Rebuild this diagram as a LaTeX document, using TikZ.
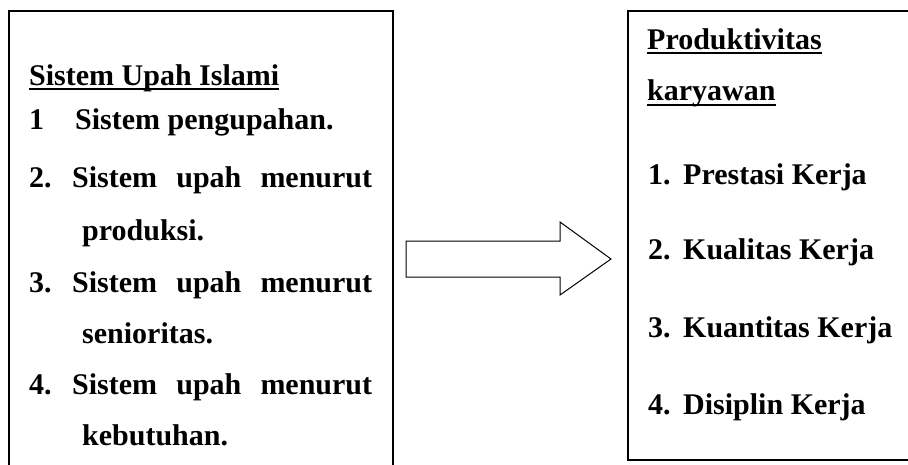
\documentclass[tikz,border=0pt]{standalone}
\usepackage{fontspec}
\setmainfont{Liberation Serif}
\begin{document}
\begin{tikzpicture}[x=1pt,y=-1pt,
  txt/.style={anchor=base west,inner sep=0pt,font=\fontsize{30}{35}\selectfont\bfseries},
  boxline/.style={line width=1.6pt},
  ul/.style={line width=1.8pt}]
\useasboundingbox (0,0) rectangle (908,464);
% boxes
\draw[boxline] (9,480) -- (9,11) -- (393,11) -- (393,480);
\draw[boxline] (920,11) -- (628,11) -- (628,460) -- (920,460);
% left text
\node[txt] (lt) at (29,85) {Sistem Upah Islami};
\draw[ul] ([yshift=-4pt]lt.base west) -- ([yshift=-4pt]lt.base east);
\node[txt] (l1n) at (29,129) {1};
\node[txt] (l1) at (75,129) {Sistem pengupahan.};
\node[txt] (l2n) at (29,187) {2.};
\node[txt] (l2) at (72,187) {\makebox[300pt][s]{Sistem upah menurut}};
\node[txt] (l2b) at (82,240) {produksi.};
\node[txt] (l3n) at (29,292) {3.};
\node[txt] (l3) at (72,292) {\makebox[300pt][s]{Sistem upah menurut}};
\node[txt] (l3b) at (82,343) {senioritas.};
\node[txt] (l4n) at (29,394) {4.};
\node[txt] (l4) at (72,394) {\makebox[300pt][s]{Sistem upah menurut}};
\node[txt] (l4b) at (82,445) {kebutuhan.};
% arrow
\draw[line width=1pt] (406,241) -- (560,241) -- (560,222) -- (611,259) -- (560,295) -- (560,277) -- (406,277) -- cycle;
% right text
\node[txt] (rt1) at (647,49) {Produktivitas};
\draw[ul] ([yshift=-4pt]rt1.base west) -- ([yshift=-4pt]rt1.base east);
\node[txt] (rt2) at (647,100) {karyawan};
\draw[ul] ([yshift=-5pt]rt2.base west) -- ([yshift=-5pt]rt2.base east);
\node[txt] (r1n) at (648,184) {1.};
\node[txt] (r1) at (683,184) {Prestasi Kerja};
\node[txt] (r2n) at (648,259) {2.};
\node[txt] (r2) at (683,259) {Kualitas Kerja};
\node[txt] (r3n) at (648,337) {3.};
\node[txt] (r3) at (683,337) {Kuantitas Kerja};
\node[txt] (r4n) at (648,414) {4.};
\node[txt] (r4) at (683,414) {Disiplin Kerja};
\end{tikzpicture}
\end{document}
